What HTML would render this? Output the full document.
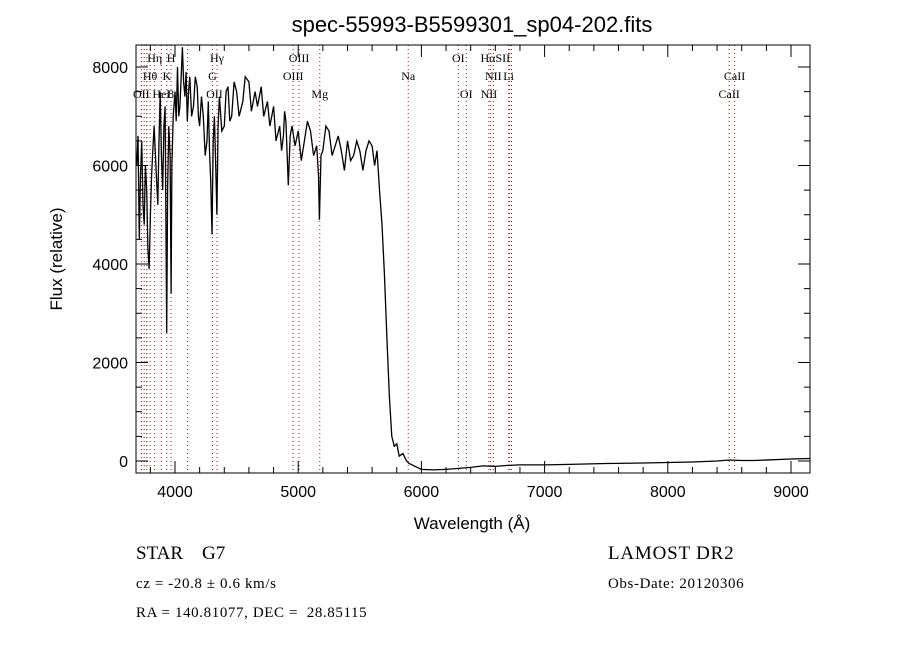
<!DOCTYPE html>
<html><head><meta charset="utf-8"><style>
body{margin:0;background:#fff}
svg text{font-family:"Liberation Sans",sans-serif;fill:#000}
.ser{font-family:"Liberation Serif",serif}
</style></head><body>
<svg id="c" width="900" height="650" xmlns="http://www.w3.org/2000/svg">
<rect width="900" height="650" fill="#fff"/>
<text x="472" y="32" font-size="22" text-anchor="middle">spec-55993-B5599301_sp04-202.fits</text>
<text x="472" y="529" font-size="17" text-anchor="middle">Wavelength (Å)</text>
<text transform="translate(62,259) rotate(-90)" font-size="17" text-anchor="middle">Flux (relative)</text>
<text x="136" y="559" font-size="19" class="ser" xml:space="preserve" style="white-space:pre">STAR    G7</text>
<text x="136" y="588" font-size="15" class="ser" xml:space="preserve" style="white-space:pre;letter-spacing:0.6px">cz = -20.8 ± 0.6 km/s</text>
<text x="136" y="617" font-size="15" class="ser" xml:space="preserve" style="white-space:pre;letter-spacing:0.6px">RA = 140.81077, DEC =  28.85115</text>
<text x="608" y="559" font-size="19" class="ser" xml:space="preserve" style="white-space:pre;letter-spacing:0.8px">LAMOST DR2</text>
<text x="608" y="588" font-size="15" class="ser" xml:space="preserve" style="white-space:pre;letter-spacing:0.6px">Obs-Date: 20120306</text>
<g id="plot"></g>
</svg>
<script>
const wave=[3690,3700,3710,3720,3730,3740,3750,3760,3770,3780,3790,3800,3810,3820,3830,3845,3860,3870,3880,3890,3900,3910,3920,3933,3940,3950,3960,3968,3975,3985,4000,4010,4020,4030,4040,4050,4060,4070,4080,4090,4100,4110,4120,4135,4150,4165,4180,4190,4200,4215,4230,4245,4260,4270,4280,4290,4300,4310,4320,4330,4340,4350,4360,4380,4400,4415,4430,4445,4460,4480,4500,4520,4550,4570,4600,4620,4650,4670,4700,4720,4750,4770,4800,4820,4850,4865,4880,4890,4900,4920,4935,4950,4975,5000,5025,5050,5075,5100,5125,5150,5165,5172,5185,5200,5225,5250,5275,5300,5325,5350,5375,5400,5425,5450,5475,5500,5525,5550,5575,5600,5620,5640,5660,5680,5700,5720,5740,5760,5780,5800,5820,5850,5880,5900,6000,6100,6200,6300,6400,6500,6600,6700,6800,7000,7200,7500,7800,8000,8200,8400,8500,8600,8700,9000,9150];
const flux=[6000,6600,4500,5800,6500,5200,4800,6000,5500,4300,3900,5000,5800,6300,6800,6000,5200,6500,7500,6200,5500,6800,7200,2600,5500,6800,6200,3400,6000,7000,7500,6900,8000,7000,7200,7800,8400,7700,7400,7900,6900,7500,7800,7000,7200,7800,7600,7000,6800,7400,7000,6200,6500,7300,6300,5700,4600,6500,7000,6000,5000,6800,7400,6700,6800,7500,7600,6900,7000,7700,7500,7000,7300,7800,7700,7100,7500,7200,7600,7000,7300,6800,7200,6500,6800,6300,6600,7100,6900,5600,6600,6800,6400,6700,6100,6500,6900,6700,6200,6400,5800,4900,6200,6300,6800,6700,6200,6400,6600,6300,5900,6500,6100,6200,6500,6300,5900,6300,6500,6400,6000,6300,5500,4800,3800,2500,1300,500,300,350,100,150,0,-50,-170,-180,-170,-150,-130,-100,-110,-90,-80,-80,-70,-50,-40,-30,-20,0,20,10,10,40,50];
const xTicks=[4000,5000,6000,7000,8000,9000];
const yTicks=[0,2000,4000,6000,8000];
const lineWaves=[3727,3750,3771,3798,3835,3889,3934,3968,4102,4304,4341,4959,5007,5175,5893,6300,6364,6548,6563,6584,6708,6717,6731,8498,8542];
const labels=[["Hη",3835,57],["H",3968,57],["Hγ",4341,57],["OIII",5007,57],["OI",6300,57],["HαSII",6600,57],
["Hθ",3798,75],["K",3934,75],["G",4304,75],["OIII",4959,75],["Na",5893,75],["NII",6584,75],["Li",6708,75],["CaII",8542,75],
["OII",3727,93],["HeI",3889,93],["8",3968,93],["OII",4320,93],["Mg",5175,93],["OI",6364,93],["NII",6548,93],["CaII",8498,93]];
const L=136,R=810,T=45,B=473;
const X=w=>175+(w-4000)*0.1232;
const Y=f=>461-f*0.04925;
const ns="http://www.w3.org/2000/svg",g=document.getElementById('plot');
function mk(t,a){const e=document.createElementNS(ns,t);for(const k in a)e.setAttribute(k,a[k]);g.appendChild(e);return e;}
lineWaves.forEach(w=>{const e=mk('line',{x1:X(w),x2:X(w),y1:T,y2:B,stroke:'#8b1a1a','stroke-width':1,'stroke-dasharray':'1,3'});

});
labels.forEach(l=>{const e=mk('text',{x:X(l[1]),y:l[2]+5,'font-size':12,'text-anchor':'middle',class:'ser'});e.textContent=l[0];

});
let d='';wave.forEach((w,i)=>{d+=(i?'L':'M')+X(w).toFixed(1)+','+Y(flux[i]).toFixed(1);});
const p=mk('path',{d:d,fill:'none',stroke:'#000','stroke-width':1.3});


const fr=mk('rect',{x:L,y:T,width:R-L,height:B-T,fill:'none',stroke:'#000'});


for(let w=3800;w<=9100;w+=200){const big=w%1000===0,h=big?12:6;
mk('line',{x1:X(w),x2:X(w),y1:B,y2:B-h,stroke:'#000'});mk('line',{x1:X(w),x2:X(w),y1:T,y2:T+h,stroke:'#000'});}
for(let f=0;f<=8400;f+=500){const big=f%2000===0,h=big?12:6;
mk('line',{x1:L,x2:L+h,y1:Y(f),y2:Y(f),stroke:'#000'});mk('line',{x1:R,x2:R-h,y1:Y(f),y2:Y(f),stroke:'#000'});}
xTicks.forEach(w=>{const e=mk('text',{x:X(w),y:B+24,'font-size':16,'text-anchor':'middle'});e.textContent=w;

});
yTicks.forEach(f=>{const e=mk('text',{x:L-8,y:Y(f)+6,'font-size':16,'text-anchor':'end'});e.textContent=f;

});
</script>
</body></html>
